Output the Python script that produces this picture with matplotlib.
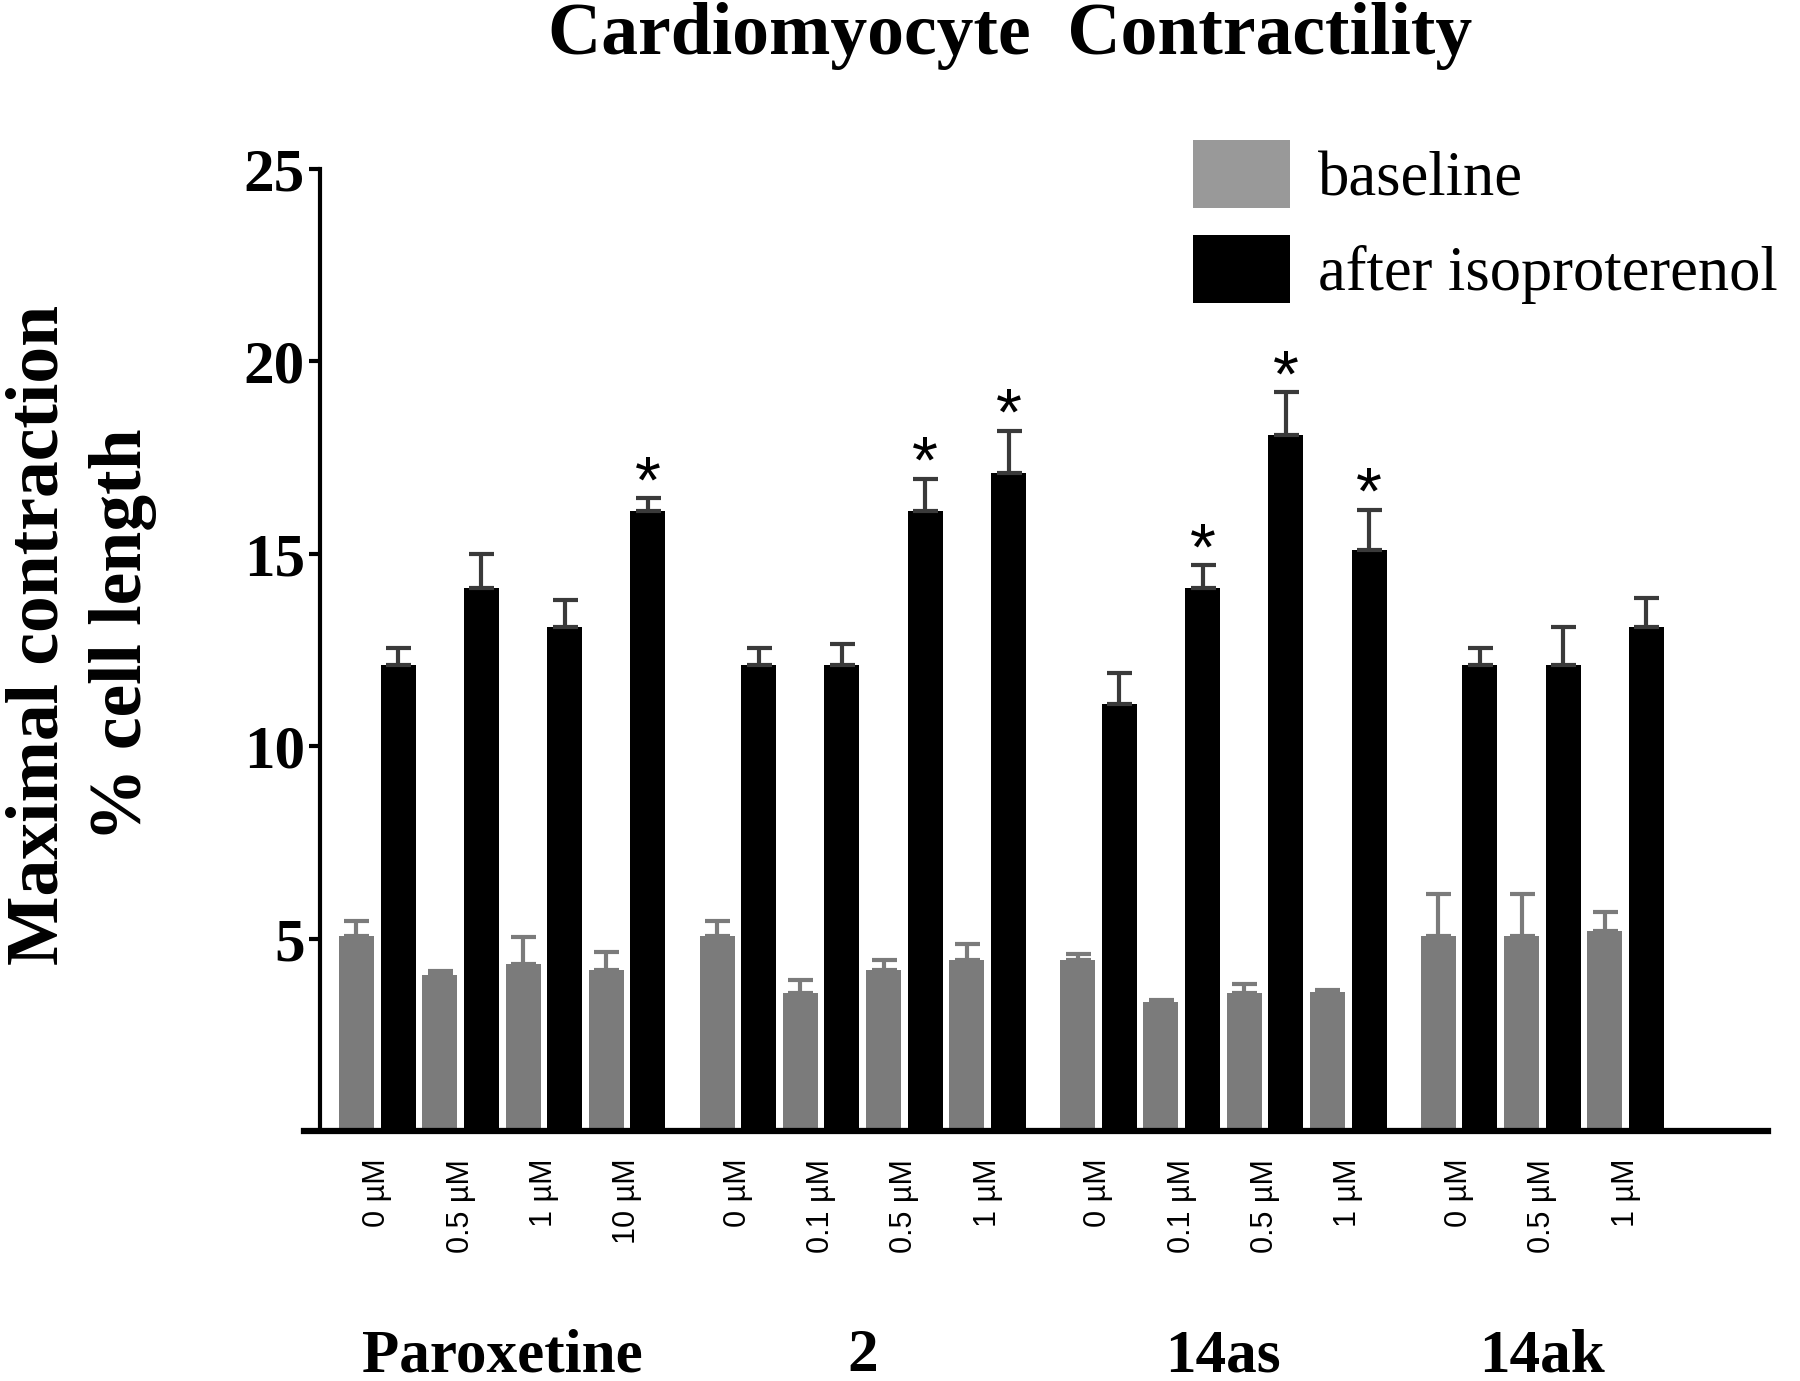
import numpy as np
import matplotlib
matplotlib.use('Agg')
import matplotlib.pyplot as plt
from matplotlib.patches import Patch
from matplotlib.transforms import blended_transform_factory

groups = ['Paroxetine', '2', '14as', '14ak']
group_of_pair = [0, 0, 0, 0, 1, 1, 1, 1, 2, 2, 2, 2, 3, 3, 3]
conc_labels = ['0 µM', '0.5 µM', '1 µM', '10 µM',
               '0 µM', '0.1 µM', '0.5 µM', '1 µM',
               '0 µM', '0.1 µM', '0.5 µM', '1 µM',
               '0 µM', '0.5 µM', '1 µM']

baseline = [5.07, 4.06, 4.33, 4.18,
            5.07, 3.58, 4.18, 4.45,
            4.45, 3.34, 3.58, 3.60,
            5.07, 5.07, 5.20]
baseline_err = [0.40, 0.10, 0.70, 0.48,
                0.40, 0.35, 0.27, 0.40,
                0.15, 0.06, 0.25, 0.06,
                1.10, 1.10, 0.50]

iso = [12.1, 14.1, 13.1, 16.1,
       12.1, 12.1, 16.1, 17.1,
       11.1, 14.1, 18.1, 15.1,
       12.1, 12.1, 13.1]
iso_err = [0.45, 0.90, 0.70, 0.35,
           0.45, 0.55, 0.85, 1.10,
           0.80, 0.60, 1.10, 1.05,
           0.45, 1.00, 0.75]
significant = [False, False, False, True,
               False, False, True, True,
               False, True, True, True,
               False, False, False]

serif = 'Liberation Serif'
sans = 'Liberation Sans'

x = np.arange(len(conc_labels)) + np.array(group_of_pair) * 0.33
w = 0.42
off = 0.25

fig = plt.figure(figsize=(18, 13.81), dpi=100)
ax = fig.add_axes([304 / 1800, 1 - 1131 / 1381, (1768 - 304) / 1800, (1131 - 169) / 1381])

gray = '#7b7b7b'
ax.bar(x - off, baseline, w, color=gray, linewidth=0,
       yerr=[np.zeros(len(baseline)), baseline_err],
       error_kw=dict(ecolor=gray, elinewidth=3, capsize=9, capthick=3))
ax.bar(x + off, iso, w, color='black', linewidth=0,
       yerr=[np.zeros(len(iso)), iso_err],
       error_kw=dict(ecolor='#3a3a3a', elinewidth=3, capsize=9, capthick=3))

# significance marks above the isoproterenol bars
for xi, v, e, s in zip(x, iso, iso_err, significant):
    if s:
        ax.annotate('*', xy=(xi + off, v + e), xytext=(0, -3), textcoords='offset points',
                    ha='center', va='baseline', fontsize=48, family=sans)

ax.set_xlim(-0.88, 16.7)
ax.set_ylim(0, 25)

ax.spines['top'].set_visible(False)
ax.spines['right'].set_visible(False)
ax.spines['left'].set_position(('data', -0.685))
ax.spines['left'].set_bounds(0, 25)
ax.spines['left'].set_linewidth(3)
ax.spines['bottom'].set_linewidth(4.5)

ax.set_yticks([5, 10, 15, 20, 25])
ax.set_yticklabels(['5', '10', '15', '20', '25'], family=serif, fontweight='bold', fontsize=44)
ax.tick_params(axis='y', length=8, width=3, pad=3)

ax.set_xticks(x)
ax.set_xticklabels(conc_labels, rotation=90, family=sans, fontsize=22)
ax.tick_params(axis='x', length=0, pad=20)

trans = blended_transform_factory(ax.transData, fig.transFigure)
for g, name in enumerate(groups):
    gx = x[np.array(group_of_pair) == g].mean()
    ax.text(gx, 10 / 1381, name, transform=trans, ha='center', va='baseline',
            family=serif, fontweight='bold', fontsize=44)

fig.text(0.561, 1 - 2 / 1381, 'Cardiomyocyte  Contractility', ha='center', va='top',
         family=serif, fontweight='bold', fontsize=53)

fig.text(0.045, 1 - 635 / 1381, 'Maximal contraction\n% cell length', rotation=90,
         ha='center', va='center', multialignment='center', linespacing=1.3,
         family=serif, fontweight='bold', fontsize=53)

handles = [Patch(facecolor='#999999', edgecolor='none', label='baseline'),
           Patch(facecolor='black', edgecolor='none', label='after isoproterenol')]
ax.legend(handles=handles, loc='upper left', bbox_to_anchor=(1193 / 1800, 1 - 140 / 1381),
          bbox_transform=fig.transFigure, frameon=False, borderpad=0, borderaxespad=0,
          handlelength=1.55, handleheight=1.3, handletextpad=0.45, labelspacing=0.42,
          prop={'family': serif, 'size': 45})

fig.savefig('out.png', dpi=100)
